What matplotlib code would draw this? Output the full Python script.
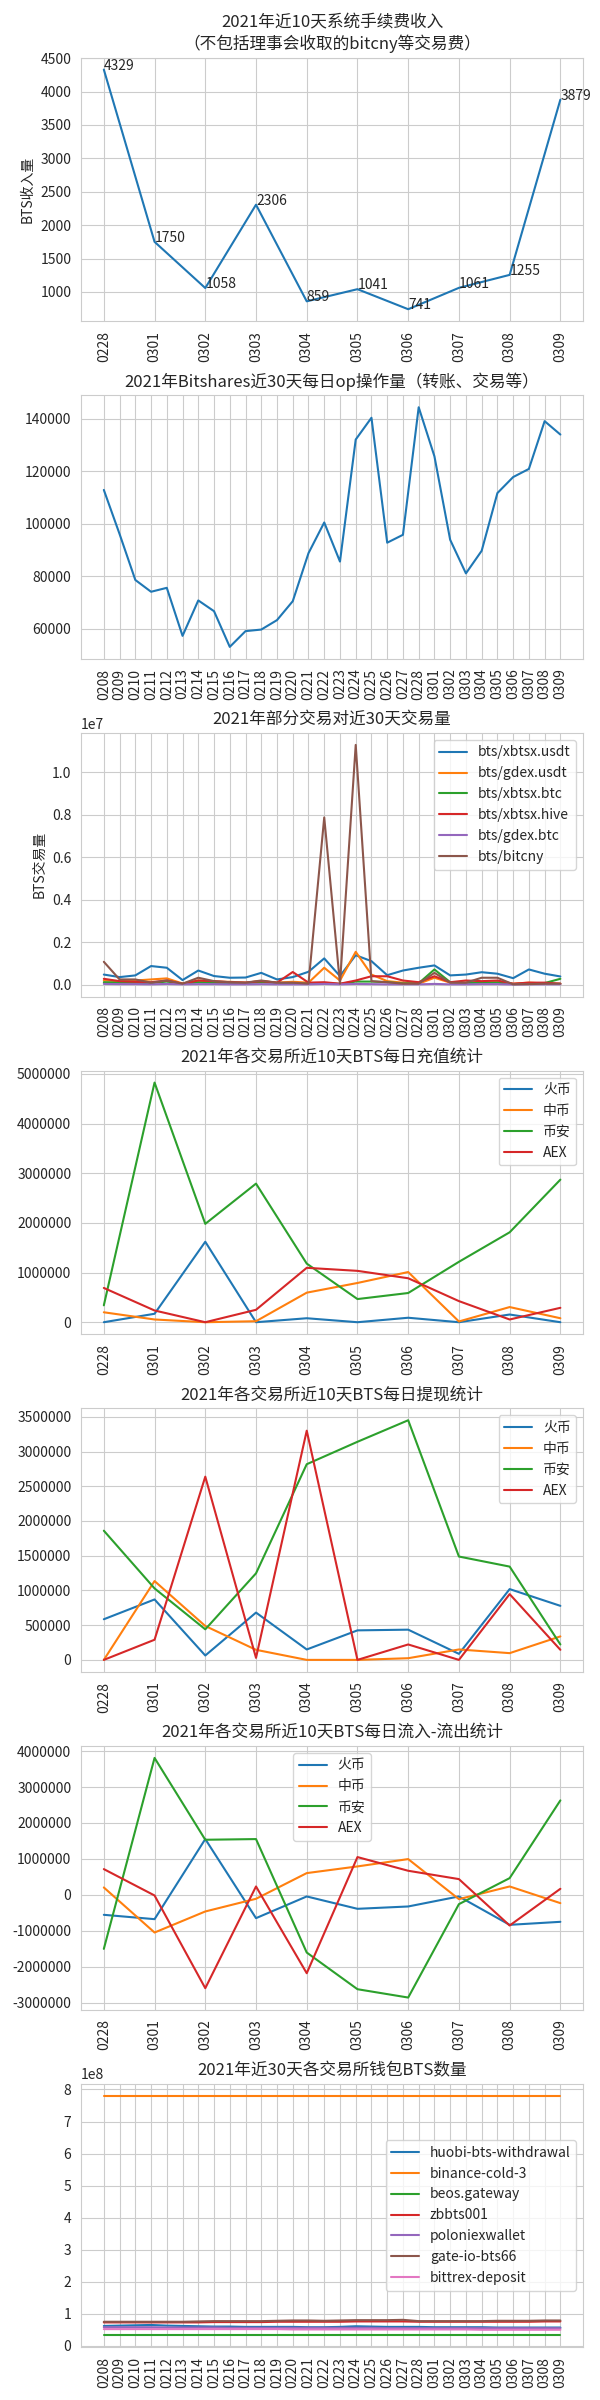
import matplotlib
matplotlib.use("Agg")
import matplotlib.pyplot as plt
import seaborn as sns

sns.set_style("whitegrid")
plt.rcParams['font.family'] = ['Noto Sans CJK SC', 'DejaVu Sans']
plt.rcParams['axes.unicode_minus'] = False

# ---- data ----
days10 = ["0228", "0301", "0302", "0303", "0304", "0305", "0306", "0307", "0308", "0309"]
days30 = ["0208", "0209", "0210", "0211", "0212", "0213", "0214", "0215", "0216", "0217",
          "0218", "0219", "0220", "0221", "0222", "0223", "0224", "0225", "0226", "0227",
          "0228", "0301", "0302", "0303", "0304", "0305", "0306", "0307", "0308", "0309"]

fee_income = [4329, 1750, 1058, 2306, 859, 1041, 741, 1061, 1255, 3879]

op_count = [112800, 96000, 78500, 74000, 75500, 57200, 70700, 66600, 53000, 59000,
            59600, 63200, 70400, 88700, 100400, 85500, 132000, 140300, 92700, 95700,
            144300, 125600, 93800, 81000, 89600, 111600, 117700, 120800, 139000, 133900]

pair_names = ["bts/xbtsx.usdt", "bts/gdex.usdt", "bts/xbtsx.btc", "bts/xbtsx.hive",
              "bts/gdex.btc", "bts/bitcny"]
vol_xbtsx_usdt = [480000, 360000, 440000, 880000, 800000, 220000, 670000, 410000, 330000, 340000,
                  560000, 250000, 360000, 610000, 1240000, 410000, 1390000, 1110000, 450000, 670000,
                  800000, 910000, 440000, 480000, 590000, 520000, 310000, 720000, 520000, 390000]
vol_gdex_usdt = [200000, 170000, 200000, 250000, 300000, 60000, 200000, 140000, 140000, 100000,
                 170000, 100000, 140000, 100000, 800000, 200000, 1550000, 480000, 170000, 100000,
                 50000, 330000, 100000, 100000, 100000, 120000, 50000, 100000, 60000, 50000]
vol_xbtsx_btc = [120000, 100000, 90000, 80000, 150000, 40000, 120000, 90000, 80000, 70000,
                 120000, 80000, 60000, 50000, 80000, 40000, 150000, 150000, 120000, 60000,
                 70000, 720000, 120000, 80000, 100000, 110000, 30000, 60000, 80000, 280000]
vol_xbtsx_hive = [280000, 170000, 140000, 120000, 200000, 50000, 200000, 170000, 120000, 100000,
                  170000, 100000, 600000, 100000, 120000, 50000, 200000, 400000, 400000, 200000,
                  120000, 400000, 120000, 200000, 170000, 200000, 50000, 100000, 100000, 50000]
vol_gdex_btc = [40000, 30000, 30000, 20000, 40000, 20000, 30000, 30000, 20000, 20000,
                30000, 20000, 20000, 20000, 40000, 20000, 40000, 30000, 20000, 20000,
                20000, 40000, 20000, 20000, 30000, 30000, 10000, 20000, 20000, 20000]
vol_bitcny = [1080000, 250000, 250000, 100000, 200000, 50000, 330000, 170000, 120000, 100000,
              200000, 100000, 100000, 50000, 7870000, 50000, 11280000, 170000, 120000, 50000,
              50000, 560000, 100000, 100000, 330000, 330000, 20000, 30000, 50000, 50000]

exchanges = ["火币", "中币", "币安", "AEX"]
dep_huobi = [0, 170000, 1620000, 0, 80000, 0, 90000, 0, 155000, 0]
dep_zb = [200000, 55000, 0, 20000, 595000, 790000, 1010000, 15000, 305000, 80000]
dep_binance = [340000, 4824000, 1980000, 2790000, 1180000, 466000, 588000, 1216000, 1810000, 2870000]
dep_aex = [690000, 236000, 0, 250000, 1095000, 1034000, 885000, 425000, 55000, 290000]

wd_huobi = [585000, 870000, 63000, 681000, 150000, 425000, 435000, 87000, 1019000, 778000]
wd_zb = [0, 1135000, 488000, 145000, 0, 0, 24000, 150000, 97000, 338000]
wd_binance = [1860000, 1029000, 440000, 1246000, 2817000, 3140000, 3450000, 1488000, 1343000, 222000]
wd_aex = [0, 290000, 2638000, 29000, 3300000, 0, 222000, 0, 947000, 145000]

net_huobi = [-557000, -678000, 1551000, -650000, -46000, -390000, -325000, -46000, -836000, -752000]
net_zb = [204000, -1050000, -464000, -111000, 604000, 790000, 994000, -121000, 232000, -232000]
net_binance = [-1505000, 3810000, 1532000, 1551000, -1607000, -2628000, -2860000, -260000, 464000, 2628000]
net_aex = [715000, -19000, -2600000, 232000, -2183000, 1050000, 669000, 437000, -855000, 167000]

wallet_names = ["huobi-bts-withdrawal", "binance-cold-3", "beos.gateway", "zbbts001",
                "poloniexwallet", "gate-io-bts66", "bittrex-deposit"]
w_huobi = [6.2e7, 6.3e7, 6.4e7, 6.5e7, 6.3e7, 6.2e7, 6.1e7, 6.0e7, 6.0e7, 5.9e7,
           5.9e7, 5.9e7, 5.9e7, 5.8e7, 5.8e7, 5.9e7, 6.1e7, 6.0e7, 5.9e7, 5.9e7,
           5.9e7, 5.8e7, 5.8e7, 5.8e7, 5.8e7, 5.7e7, 5.7e7, 5.7e7, 5.7e7, 5.7e7]
w_binance = [7.81e8] * 30
w_beos = [3.3e7] * 30
w_zb = [7.3e7, 7.3e7, 7.3e7, 7.3e7, 7.3e7, 7.3e7, 7.3e7, 7.4e7, 7.4e7, 7.4e7,
        7.4e7, 7.5e7, 7.5e7, 7.5e7, 7.5e7, 7.5e7, 7.6e7, 7.6e7, 7.6e7, 7.6e7,
        7.5e7, 7.5e7, 7.5e7, 7.5e7, 7.5e7, 7.5e7, 7.5e7, 7.5e7, 7.6e7, 7.6e7]
w_polo = [5.8e7, 5.8e7, 5.8e7, 5.8e7, 5.7e7, 5.7e7, 5.7e7, 5.7e7, 5.6e7, 5.6e7,
          5.6e7, 5.6e7, 5.6e7, 5.6e7, 5.6e7, 5.6e7, 5.6e7, 5.6e7, 5.5e7, 5.5e7,
          5.5e7, 5.5e7, 5.5e7, 5.5e7, 5.5e7, 5.5e7, 5.5e7, 5.5e7, 5.5e7, 5.5e7]
w_gate = [7.5e7, 7.5e7, 7.5e7, 7.5e7, 7.5e7, 7.5e7, 7.6e7, 7.7e7, 7.7e7, 7.7e7,
          7.7e7, 7.8e7, 7.9e7, 7.9e7, 7.8e7, 7.9e7, 8.0e7, 8.0e7, 8.0e7, 8.1e7,
          7.7e7, 7.7e7, 7.7e7, 7.7e7, 7.7e7, 7.8e7, 7.8e7, 7.8e7, 7.9e7, 7.9e7]
w_bittrex = [5.2e7, 5.2e7, 5.2e7, 5.2e7, 5.2e7, 5.2e7, 5.2e7, 5.2e7, 5.2e7, 5.2e7,
             5.2e7, 5.2e7, 5.1e7, 5.1e7, 5.1e7, 5.1e7, 5.1e7, 5.1e7, 5.1e7, 5.1e7,
             5.1e7, 5.1e7, 5.1e7, 5.1e7, 5.0e7, 5.0e7, 5.0e7, 5.0e7, 5.0e7, 5.0e7]


def main():
    fig, axes = plt.subplots(7, 1, figsize=(6, 24), dpi=100)
    fig.subplots_adjust(left=0.135, right=0.972, top=0.976, bottom=0.022, hspace=0.281)

    # 1 fee income
    ax = axes[0]
    ax.plot(days10, fee_income)
    for x, y in zip(days10, fee_income):
        ax.text(x, y, str(y), fontsize=10)
    ax.set_title("2021年近10天系统手续费收入\n（不包括理事会收取的bitcny等交易费）")
    ax.set_ylabel("BTS收入量")

    # 2 op count
    ax = axes[1]
    ax.plot(days30, op_count)
    ax.set_title("2021年Bitshares近30天每日op操作量（转账、交易等）")

    # 3 pair volume
    ax = axes[2]
    for name, vals in zip(pair_names, [vol_xbtsx_usdt, vol_gdex_usdt, vol_xbtsx_btc,
                                       vol_xbtsx_hive, vol_gdex_btc, vol_bitcny]):
        ax.plot(days30, vals, label=name)
    ax.set_title("2021年部分交易对近30天交易量")
    ax.set_ylabel("BTS交易量")
    ax.legend(loc="upper right")

    # 4 deposits
    ax = axes[3]
    for name, vals in zip(exchanges, [dep_huobi, dep_zb, dep_binance, dep_aex]):
        ax.plot(days10, vals, label=name)
    ax.set_title("2021年各交易所近10天BTS每日充值统计")
    ax.legend(loc="upper right")
    ax.ticklabel_format(style='plain', axis='y')

    # 5 withdrawals
    ax = axes[4]
    for name, vals in zip(exchanges, [wd_huobi, wd_zb, wd_binance, wd_aex]):
        ax.plot(days10, vals, label=name)
    ax.set_title("2021年各交易所近10天BTS每日提现统计")
    ax.legend(loc="upper right")
    ax.ticklabel_format(style='plain', axis='y')

    # 6 net flow
    ax = axes[5]
    for name, vals in zip(exchanges, [net_huobi, net_zb, net_binance, net_aex]):
        ax.plot(days10, vals, label=name)
    ax.set_title("2021年各交易所近10天BTS每日流入-流出统计")
    ax.legend(loc="upper center")
    ax.ticklabel_format(style='plain', axis='y')

    # 7 wallets
    ax = axes[6]
    for name, vals in zip(wallet_names, [w_huobi, w_binance, w_beos, w_zb,
                                         w_polo, w_gate, w_bittrex]):
        ax.plot(days30, vals, label=name)
    ax.set_title("2021年近30天各交易所钱包BTS数量")
    ax.legend(loc="center right")

    for ax in axes:
        ax.tick_params(axis='x', labelrotation=90)

    fig.savefig("out.png")


if __name__ == "__main__":
    main()
